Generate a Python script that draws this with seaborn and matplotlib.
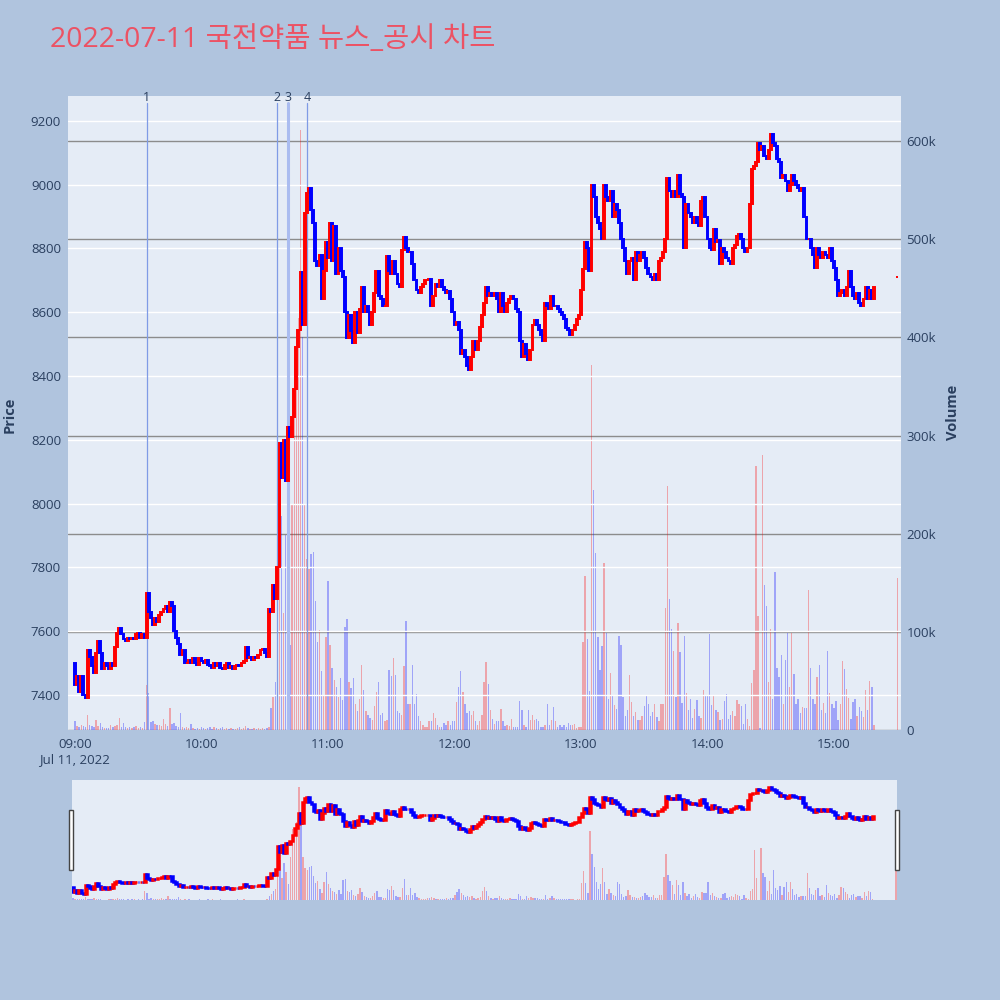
import numpy as np
import pandas as pd
import seaborn as sns
import matplotlib
matplotlib.use("Agg")
import matplotlib.pyplot as plt
from matplotlib.patches import Rectangle
import matplotlib.transforms as mtransforms

# 1-minute closes, 09:00 .. 15:19 (one row = 10 minutes)
close_px = [
    7430, 7460, 7410, 7460, 7400, 7390, 7540, 7520, 7490, 7470,
    7530, 7570, 7530, 7480, 7500, 7490, 7480, 7500, 7490, 7550,
    7595, 7610, 7590, 7575, 7570, 7580, 7575, 7580, 7575, 7590,
    7595, 7580, 7590, 7580, 7720, 7660, 7640, 7620, 7640, 7630,
    7650, 7660, 7670, 7680, 7660, 7690, 7680, 7600, 7580, 7560,
    7525, 7540, 7500, 7500, 7510, 7500, 7515, 7500, 7495, 7515,
    7505, 7500, 7510, 7495, 7490, 7485, 7500, 7490, 7500, 7485,
    7480, 7495, 7500, 7485, 7490, 7480, 7490, 7495, 7490, 7500,
    7505, 7550, 7515, 7520, 7510, 7520, 7515, 7525, 7540, 7545,
    7530, 7520, 7670, 7660, 7745, 7700, 7800, 8190, 8080, 8200,
    8070, 8240, 8210, 8270, 8360, 8490, 8545, 8725, 8560, 8910,
    8975, 8990, 8920, 8880, 8760, 8745, 8780, 8640, 8730, 8820,
    8770, 8880, 8760, 8870, 8720, 8800, 8730, 8710, 8600, 8520,
    8590, 8540, 8505, 8600, 8535, 8610, 8680, 8600, 8620, 8600,
    8560, 8600, 8660, 8730, 8650, 8640, 8620, 8620, 8775, 8730,
    8720, 8760, 8720, 8690, 8680, 8795, 8835, 8800, 8790, 8790,
    8750, 8700, 8670, 8660, 8680, 8690, 8700, 8700, 8705, 8620,
    8650, 8690, 8680, 8700, 8680, 8670, 8660, 8665, 8640, 8600,
    8560, 8570, 8545, 8470, 8480, 8460, 8430, 8420, 8460, 8510,
    8480, 8510, 8555, 8590, 8630, 8680, 8650, 8660, 8650, 8660,
    8640, 8600, 8660, 8620, 8600, 8630, 8640, 8650, 8640, 8610,
    8600, 8510, 8460, 8500, 8470, 8450, 8480, 8560, 8575, 8560,
    8545, 8530, 8510, 8630, 8620, 8610, 8650, 8620, 8620, 8610,
    8600, 8590, 8580, 8550, 8545, 8530, 8545, 8560, 8580, 8590,
    8670, 8735, 8820, 8800, 8730, 9000, 8960, 8900, 8880, 8860,
    8830, 9000, 8960, 8950, 8980, 8900, 8940, 8920, 8880, 8830,
    8800, 8760, 8720, 8760, 8770, 8700, 8790, 8760, 8780, 8790,
    8770, 8740, 8720, 8710, 8700, 8720, 8700, 8760, 8770, 8790,
    8830, 9020, 8980, 8960, 8980, 8960, 9030, 8970, 8960, 8800,
    8940, 8910, 8900, 8880, 8900, 8880, 8870, 8950, 8960, 8900,
    8830, 8800, 8795, 8860, 8820, 8825, 8750, 8800, 8790, 8770,
    8760, 8750, 8800, 8810, 8840, 8845, 8830, 8800, 8790, 8800,
    8940, 9050, 9060, 9070, 9130, 9110, 9120, 9090, 9080, 9110,
    9160, 9130, 9120, 9080, 9070, 9020, 9030, 9010, 8980, 9000,
    9030, 9010, 9000, 8990, 8980, 8990, 8900, 8830, 8830, 8800,
    8780, 8740, 8800, 8780, 8770, 8790, 8780, 8770, 8800, 8760,
    8740, 8700, 8650, 8660, 8670, 8650, 8680, 8730, 8680, 8650,
    8640, 8660, 8630, 8620, 8640, 8680, 8640, 8670, 8640, 8680,
]
open_0900 = 7500

# volume per minute, thousands of shares
volume_k = [
    9, 4, 3, 5, 4, 3, 15, 5, 4, 3,
    10, 4, 7, 3, 2, 2, 2, 5, 3, 4,
    5, 12, 3, 7, 3, 2, 3, 2, 3, 4,
    2, 3, 2, 8, 46, 38, 8, 9, 6, 5,
    5, 4, 11, 6, 4, 22, 6, 7, 4, 3,
    17, 3, 2, 3, 2, 6, 2, 1, 2, 1,
    3, 2, 1, 2, 3, 1, 3, 2, 1, 2,
    3, 1, 2, 1, 2, 1, 1, 2, 3, 1,
    2, 4, 2, 1, 1, 2, 1, 2, 1, 2,
    1, 2, 3, 22, 34, 49, 61, 250, 218, 119,
    199, 150, 87, 230, 380, 350, 420, 611, 400, 230,
    174, 164, 179, 181, 131, 90, 102, 60, 36, 95,
    152, 87, 63, 51, 44, 34, 53, 31, 105, 113,
    49, 43, 53, 27, 19, 32, 66, 41, 19, 15,
    12, 10, 24, 39, 49, 15, 17, 9, 10, 61,
    55, 73, 56, 19, 17, 15, 65, 111, 27, 26,
    66, 26, 37, 14, 9, 5, 3, 3, 9, 9,
    17, 12, 5, 3, 3, 7, 5, 9, 5, 9,
    9, 29, 44, 60, 39, 26, 17, 19, 15, 19,
    9, 5, 9, 15, 49, 69, 47, 20, 11, 6,
    9, 9, 21, 9, 4, 5, 4, 11, 3, 3,
    3, 30, 20, 5, 3, 20, 10, 15, 10, 11,
    9, 3, 3, 5, 27, 5, 10, 23, 9, 3,
    5, 3, 5, 3, 7, 5, 5, 6, 2, 3,
    3, 90, 157, 93, 40, 372, 245, 180, 95, 61,
    86, 170, 99, 32, 58, 36, 25, 21, 96, 87,
    34, 14, 20, 56, 29, 14, 18, 10, 10, 14,
    24, 35, 27, 14, 18, 27, 13, 9, 26, 26,
    124, 249, 133, 103, 81, 34, 109, 79, 28, 96,
    38, 20, 32, 12, 21, 31, 14, 12, 41, 35,
    36, 98, 25, 36, 20, 18, 10, 11, 30, 37,
    11, 15, 19, 14, 31, 27, 24, 6, 26, 11,
    4, 48, 61, 269, 116, 2, 280, 148, 126, 49,
    103, 32, 161, 63, 54, 76, 26, 71, 99, 44,
    99, 57, 26, 32, 17, 23, 22, 22, 143, 63,
    32, 26, 54, 66, 20, 28, 17, 81, 38, 26,
    22, 30, 10, 27, 70, 62, 42, 33, 11, 29,
    32, 14, 23, 19, 13, 41, 20, 50, 44, 5,
]

# closing auction 15:30
minute_1530 = 390
open_1530 = 8710
close_1530 = 8710
volume_1530_k = 155

news_times = ["09:34", "10:36", "10:41", "10:50"]
news_labels = ["1", "2", "3", "4"]

hour_ticks = ["09:00", "10:00", "11:00", "12:00", "13:00", "14:00", "15:00"]
title = "2022-07-11 국전약품 뉴스_공시 차트"

RED = "#ff0000"
BLUE = "#0000ff"
TXT = "#2a3f5f"
PLOT_BG = "#e5ecf6"


def to_min(hhmm):
    h, m = hhmm.split(":")
    return (int(h) - 9) * 60 + int(m)


df = pd.DataFrame({
    "minute": list(range(len(close_px))) + [minute_1530],
    "open": [open_0900] + close_px[:-1] + [open_1530],
    "close": close_px + [close_1530],
    "volume": np.array(volume_k + [volume_1530_k]) * 1000,
})
df["dir"] = np.where(df["close"] >= df["open"], "up", "down")


def draw_candles(ax, lw, width):
    lo = df[["open", "close"]].min(axis=1)
    hi = df[["open", "close"]].max(axis=1)
    cols = df["dir"].map({"up": RED, "down": BLUE})
    ax.bar(df["minute"], hi - lo, width=width, bottom=lo, color=cols,
           edgecolor=cols, linewidth=lw, zorder=3)


def draw_volume(ax):
    sns.barplot(data=df, x="minute", y="volume", hue="dir",
                palette={"up": RED, "down": BLUE}, native_scale=True,
                orient="x", dodge=False, width=0.65, saturation=1,
                alpha=0.3, errorbar=None, legend=False, ax=ax, linewidth=0)
    ax.set_xlabel("")
    ax.set_ylabel("")


sns.set_theme(style="white")
plt.rcParams["font.family"] = ["Open Sans", "Noto Sans CJK KR", "DejaVu Sans"]

fig = plt.figure(figsize=(10, 10), dpi=100, facecolor="#b0c4de")

# main chart: volume underneath, price on top
axv = fig.add_axes([0.068, 0.27, 0.833, 0.634], facecolor=PLOT_BG)
axp = axv.twinx()
draw_volume(axv)
draw_candles(axp, lw=1.4, width=0.9)

axv.set_ylim(0, 646000)
axv.set_yticks(range(0, 700000, 100000))
axv.set_yticklabels(["0"] + [f"{k}k" for k in range(100, 700, 100)])
axv.yaxis.tick_right()
axv.grid(axis="y", color="#8c8c8c", linewidth=1)
axv.grid(axis="x", visible=False)

axp.set_ylim(7290, 9278)
axp.set_yticks(range(7400, 9300, 200))
axp.yaxis.tick_left()
axp.grid(axis="y", color="white", linewidth=1)
axp.set_axisbelow(True)

axv.set_xlim(-3.3, 391.8)
axv.set_xticks([to_min(t) for t in hour_ticks])
axv.set_xticklabels([hour_ticks[0] + "\nJul 11, 2022"] + hour_ticks[1:])

for a in (axv, axp):
    a.tick_params(length=0, labelsize=9.5, labelcolor=TXT)
    for s in a.spines.values():
        s.set_visible(False)
axv.tick_params(axis="x", pad=6)
axv.tick_params(axis="y", pad=4)
axp.tick_params(axis="y", pad=5)

trans = mtransforms.blended_transform_factory(axp.transData, axp.transAxes)
for t, lab in zip(news_times, news_labels):
    m = to_min(t)
    wide = lab == "3"
    axp.axvline(m, ymax=0.989, color="#7f9be6" if not wide else "#aabcf0",
                linewidth=2.2 if wide else 0.9, zorder=2)
    axp.text(m, 0.998, lab, transform=trans, ha="center", va="center",
             fontsize=9, color=TXT)

# range slider
axs_v = fig.add_axes([0.072, 0.10, 0.825, 0.12], facecolor=PLOT_BG)
axs_p = axs_v.twinx()
draw_volume(axs_v)
draw_candles(axs_p, lw=1.8, width=0.9)
axs_v.set_ylim(0, 646000)
axs_p.set_ylim(7290, 9278)
axs_v.set_xlim(-0.5, 390.5)
for a in (axs_v, axs_p):
    a.set_xticks([])
    a.set_yticks([])
    a.grid(False)
    for s in a.spines.values():
        s.set_visible(False)

for x0 in (0.069, 0.895):
    fig.patches.append(Rectangle((x0, 0.13), 0.004, 0.06, transform=fig.transFigure,
                                 facecolor="white", edgecolor="#444444",
                                 linewidth=1, zorder=5))

fig.text(0.05, 0.96, title, fontsize=20.5, color="#ec5264", ha="left", va="center")
fig.text(0.010, 0.585, "Price", rotation=90, ha="center", va="center",
         fontsize=10.5, fontweight="bold", color=TXT)
fig.text(0.953, 0.588, "Volume", rotation=90, ha="center", va="center",
         fontsize=10.5, fontweight="bold", color=TXT)

fig.savefig("out.png", dpi=100, facecolor=fig.get_facecolor())
